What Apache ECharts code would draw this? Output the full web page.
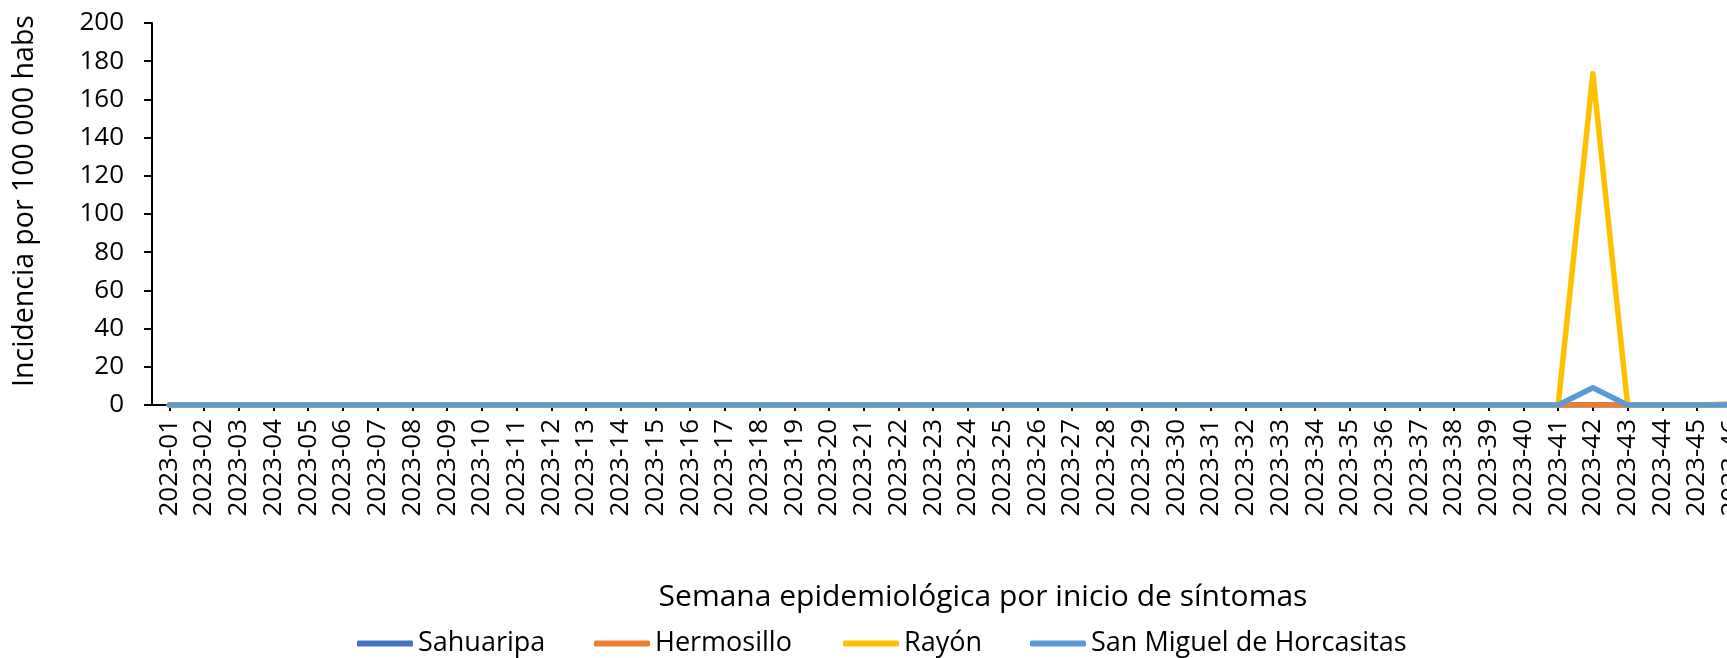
<!DOCTYPE html>
<html>
<head>
<meta charset="utf-8">
<script src="https://cdn.jsdelivr.net/npm/echarts@6/dist/echarts.min.js"></script>
<style>
html,body{margin:0;padding:0;background:#fff;}
#chart{width:1727px;height:658px;}
</style>
</head>
<body>
<div id="chart"></div>
<script>
const weeks = ["2023-01","2023-02","2023-03","2023-04","2023-05","2023-06","2023-07","2023-08","2023-09","2023-10",
"2023-11","2023-12","2023-13","2023-14","2023-15","2023-16","2023-17","2023-18","2023-19","2023-20",
"2023-21","2023-22","2023-23","2023-24","2023-25","2023-26","2023-27","2023-28","2023-29","2023-30",
"2023-31","2023-32","2023-33","2023-34","2023-35","2023-36","2023-37","2023-38","2023-39","2023-40",
"2023-41","2023-42","2023-43","2023-44","2023-45","2023-46"];

const sahuaripa = [0,0,0,0,0,0,0,0,0,0, 0,0,0,0,0,0,0,0,0,0, 0,0,0,0,0,0,0,0,0,0, 0,0,0,0,0,0,0,0,0,0, 0,0,0,0,0,0];
const hermosillo = [0,0,0,0,0,0,0,0,0,0, 0,0,0,0,0,0,0,0,0,0, 0,0,0,0,0,0,0,0,0,0, 0,0,0,0,0,0,0,0,0,0, 0,0,0,0,0,0.5];
const rayon = [0,0,0,0,0,0,0,0,0,0, 0,0,0,0,0,0,0,0,0,0, 0,0,0,0,0,0,0,0,0,0, 0,0,0,0,0,0,0,0,0,0, 0,173.5,0,0,0,0];
const sanMiguel = [0,0,0,0,0,0,0,0,0,0, 0,0,0,0,0,0,0,0,0,0, 0,0,0,0,0,0,0,0,0,0, 0,0,0,0,0,0,0,0,0,0, 0,9,0,0,0,0];

const seriesNames = ["Sahuaripa","Hermosillo","Rayón","San Miguel de Horcasitas"];
const seriesColors = ["#4472C4","#ED7D31","#FFC000","#5B9BD5"];
const seriesData = [sahuaripa, hermosillo, rayon, sanMiguel];

const yAxisTitle = "Incidencia por 100 000 habs";
const xAxisTitle = "Semana epidemiológica por inicio de síntomas";

const FONT = "Open Sans";
const chart = echarts.init(document.getElementById('chart'));
const legendLefts = [357, 594, 843, 1030];

const option = {
  animation: false,
  backgroundColor: '#ffffff',
  grid: { left: 152, top: 23, height: 382, width: 34.72 * weeks.length, containLabel: false, outerBoundsMode: 'none' },
  xAxis: {
    type: 'category',
    data: weeks,
    boundaryGap: true,
    axisLine: { show: true, lineStyle: { color: '#000', width: 2 } },
    axisTick: { show: true, alignWithLabel: true, length: 6, lineStyle: { color: '#000', width: 2 } },
    axisLabel: { rotate: 90, interval: 0, margin: 14, color: '#000', fontFamily: FONT, fontSize: 26 },
    splitLine: { show: false }
  },
  yAxis: {
    type: 'value',
    min: 0, max: 200, interval: 20,
    axisLine: { show: true, lineStyle: { color: '#000', width: 2 } },
    axisTick: { show: true, length: 8, lineStyle: { color: '#000', width: 2 } },
    axisLabel: { margin: 28, color: '#000', fontFamily: FONT, fontSize: 26 },
    splitLine: { show: false }
  },
  legend: seriesNames.map((n, i) => ({
    data: [n],
    left: legendLefts[i],
    top: 630,
    padding: 0,
    icon: 'roundRect',
    itemWidth: 56,
    itemHeight: 6,
    textStyle: { color: '#000', fontFamily: FONT, fontSize: 27 }
  })),
  graphic: [
    { type: 'text', x: 25, y: 201, rotation: Math.PI / 2,
      style: { text: yAxisTitle, x: 0, y: 0, textAlign: 'center', textVerticalAlign: 'middle',
               fill: '#000', font: '28.5px "Open Sans"' } },
    { type: 'text', x: 983, y: 597,
      style: { text: xAxisTitle, x: 0, y: 0, textAlign: 'center', textVerticalAlign: 'middle',
               fill: '#000', font: '30px "Open Sans"' } }
  ],
  series: seriesNames.map((n, i) => ({
    name: n,
    type: 'line',
    data: seriesData[i],
    symbol: 'none',
    smooth: false,
    color: seriesColors[i],
    lineStyle: { width: 5.5, color: seriesColors[i], join: 'round', cap: 'round' },
    z: 2 + i
  }))
};
chart.setOption(option);
</script>
</body>
</html>
